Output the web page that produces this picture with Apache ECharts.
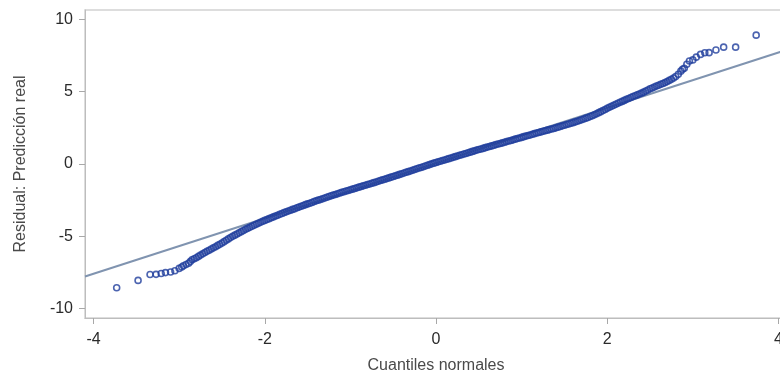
<!DOCTYPE html>
<html>
<head>
<meta charset="utf-8">
<script src="https://cdn.jsdelivr.net/npm/echarts@6/dist/echarts.min.js"></script>
<style>
  html, body { margin: 0; padding: 0; background: #fff; overflow: hidden; }
  #chart { width: 800px; height: 379px; }
</style>
</head>
<body>
<div id="chart"></div>
<script>
// Normal quantiles (x) and sorted residuals (y) of the Q-Q plot
const quantiles = [
  -3.73, -3.48, -3.34, -3.27, -3.21, -3.16, -3.10, -3.05, -3.00, -2.97, -2.95, -2.92, -2.89, -2.87,
  -2.85, -2.825, -2.8, -2.775, -2.75, -2.725, -2.7, -2.675, -2.65, -2.625,
  -2.6, -2.575, -2.55, -2.525, -2.5, -2.475, -2.45, -2.425, -2.4, -2.375,
  -2.35, -2.325, -2.3, -2.275, -2.25, -2.225, -2.2, -2.175, -2.15, -2.125,
  -2.1, -2.075, -2.05, -2.025, -2.0, -1.975, -1.95, -1.925, -1.9, -1.875,
  -1.85, -1.825, -1.8, -1.775, -1.75, -1.725, -1.7, -1.675, -1.65, -1.625,
  -1.6, -1.575, -1.55, -1.525, -1.5, -1.475, -1.45, -1.425, -1.4, -1.375,
  -1.35, -1.325, -1.3, -1.275, -1.25, -1.225, -1.2, -1.175, -1.15, -1.125,
  -1.1, -1.075, -1.05, -1.025, -1.0, -0.975, -0.95, -0.925, -0.9, -0.875,
  -0.85, -0.825, -0.8, -0.775, -0.75, -0.725, -0.7, -0.675, -0.65, -0.625,
  -0.6, -0.575, -0.55, -0.525, -0.5, -0.475, -0.45, -0.425, -0.4, -0.375,
  -0.35, -0.325, -0.3, -0.275, -0.25, -0.225, -0.2, -0.175, -0.15, -0.125,
  -0.1, -0.075, -0.05, -0.025, 0, 0.025, 0.05, 0.075, 0.1, 0.125,
  0.15, 0.175, 0.2, 0.225, 0.25, 0.275, 0.3, 0.325, 0.35, 0.375,
  0.4, 0.425, 0.45, 0.475, 0.5, 0.525, 0.55, 0.575, 0.6, 0.625,
  0.65, 0.675, 0.7, 0.725, 0.75, 0.775, 0.8, 0.825, 0.85, 0.875,
  0.9, 0.925, 0.95, 0.975, 1.0, 1.025, 1.05, 1.075, 1.1, 1.125,
  1.15, 1.175, 1.2, 1.225, 1.25, 1.275, 1.3, 1.325, 1.35, 1.375,
  1.4, 1.425, 1.45, 1.475, 1.5, 1.525, 1.55, 1.575, 1.6, 1.625,
  1.65, 1.675, 1.7, 1.725, 1.75, 1.775, 1.8, 1.825, 1.85, 1.875,
  1.9, 1.925, 1.95, 1.975, 2.0, 2.025, 2.05, 2.075, 2.1, 2.125,
  2.15, 2.175, 2.2, 2.225, 2.25, 2.275, 2.3, 2.325, 2.35, 2.375,
  2.4, 2.425, 2.45, 2.475, 2.5, 2.525, 2.55, 2.575, 2.6, 2.625,
  2.65, 2.675, 2.7, 2.725, 2.75, 2.775, 2.8,
  2.83, 2.86, 2.88, 2.90, 2.93, 2.96, 3.00, 3.04, 3.09, 3.14, 3.19, 3.27, 3.36, 3.50, 3.74
];
const residuals = [
  -8.56, -8.05, -7.64, -7.63, -7.57, -7.51, -7.47, -7.38, -7.22, -7.12, -7.04, -6.95, -6.86, -6.75,
  -6.62, -6.55, -6.48, -6.39, -6.30, -6.21, -6.12, -6.04, -5.96, -5.88,
  -5.80, -5.72, -5.63, -5.55, -5.46, -5.37, -5.27, -5.18, -5.08, -5.00,
  -4.92, -4.84, -4.76, -4.68, -4.60, -4.52, -4.45, -4.38, -4.31, -4.24,
  -4.17, -4.10, -4.03, -3.96, -3.90, -3.84, -3.78, -3.72, -3.66, -3.60,
  -3.54, -3.48, -3.42, -3.36, -3.31, -3.25, -3.20, -3.14, -3.09, -3.03,
  -2.98, -2.92, -2.87, -2.81, -2.76, -2.71, -2.66, -2.60, -2.55, -2.50,
  -2.45, -2.40, -2.35, -2.30, -2.25, -2.20, -2.15, -2.11, -2.06, -2.01,
  -1.96, -1.92, -1.87, -1.83, -1.78, -1.74, -1.69, -1.65, -1.60, -1.56,
  -1.51, -1.47, -1.42, -1.38, -1.33, -1.29, -1.24, -1.19, -1.14, -1.10,
  -1.05, -1.01, -0.96, -0.91, -0.86, -0.82, -0.77, -0.72, -0.67, -0.62,
  -0.57, -0.53, -0.48, -0.43, -0.38, -0.33, -0.28, -0.24, -0.19, -0.14,
  -0.09, -0.04, 0.01, 0.06, 0.10, 0.15, 0.19, 0.24, 0.28, 0.33,
  0.37, 0.42, 0.46, 0.51, 0.55, 0.60, 0.64, 0.69, 0.73, 0.78,
  0.82, 0.87, 0.91, 0.96, 1.00, 1.04, 1.08, 1.13, 1.17, 1.21,
  1.25, 1.30, 1.34, 1.38, 1.42, 1.46, 1.50, 1.55, 1.59, 1.63,
  1.67, 1.72, 1.76, 1.80, 1.84, 1.89, 1.93, 1.97, 2.01, 2.06,
  2.10, 2.14, 2.18, 2.22, 2.26, 2.30, 2.34, 2.38, 2.42, 2.46,
  2.50, 2.55, 2.59, 2.64, 2.68, 2.73, 2.77, 2.82, 2.86, 2.91,
  2.96, 3.01, 3.06, 3.11, 3.17, 3.22, 3.28, 3.34, 3.41, 3.48,
  3.55, 3.62, 3.70, 3.77, 3.85, 3.92, 3.99, 4.06, 4.13, 4.20,
  4.27, 4.33, 4.40, 4.47, 4.53, 4.60, 4.66, 4.72, 4.78, 4.84,
  4.90, 4.97, 5.05, 5.12, 5.20, 5.26, 5.32, 5.39, 5.45, 5.51,
  5.57, 5.63, 5.70, 5.78, 5.86, 5.95, 6.05,
  6.20, 6.42, 6.55, 6.62, 6.90, 7.12, 7.20, 7.39, 7.58, 7.69, 7.70, 7.88, 8.08, 8.08, 8.91
];

// Reference line end points
const refLineX = [-4.1, 4.1];
const refLineY = [-7.78, 7.90];

// Tick labels
const xTicks = [-4, -2, 0, 2, 4];
const yTicks = [-10, -5, 0, 5, 10];

const points = quantiles.map((q, i) => [q, residuals[i]]);
const linePoints = refLineX.map((x, i) => [x, refLineY[i]]);

const font = 'Liberation Sans, Arial, sans-serif';
const chart = echarts.init(document.getElementById('chart'), null, { renderer: 'canvas' });

chart.setOption({
  animation: false,
  backgroundColor: '#ffffff',
  grid: {
    left: 85, top: 10, width: 702, bottom: 60.5,
    show: true, borderColor: '#d2d2d2', borderWidth: 1.5, backgroundColor: '#ffffff'
  },
  xAxis: {
    type: 'value', min: -4.1, max: 4.1,
    name: 'Cuantiles normales', nameLocation: 'middle', nameGap: 40,
    nameTextStyle: { fontFamily: font, fontSize: 16, color: '#4a4a4a' },
    axisLine: { show: true, onZero: false, lineStyle: { color: '#bdbdbd', width: 1 } },
    axisTick: { show: true, customValues: xTicks, length: 6, lineStyle: { color: '#a8a8a8' } },
    axisLabel: { customValues: xTicks, margin: 14, fontFamily: font, fontSize: 16, color: '#2a2a2a' },
    splitLine: { show: false }
  },
  yAxis: {
    type: 'value', min: -10.65, max: 10.65,
    name: 'Residual: Predicción real', nameLocation: 'middle', nameGap: 56, nameRotate: 90,
    nameTextStyle: { fontFamily: font, fontSize: 16, color: '#4a4a4a' },
    axisLine: { show: true, onZero: false, lineStyle: { color: '#bdbdbd', width: 1 } },
    axisTick: { show: true, customValues: yTicks, length: 6, lineStyle: { color: '#a8a8a8' } },
    axisLabel: { customValues: yTicks, margin: 12, fontFamily: font, fontSize: 16, color: '#2a2a2a' },
    splitLine: { show: false }
  },
  series: [
    {
      // fitted reference line, drawn beneath the markers
      type: 'line',
      data: linePoints,
      showSymbol: false,
      symbol: 'none',
      lineStyle: { color: '#8094b0', width: 2 },
      z: 1
    },
    {
      type: 'scatter',
      data: points,
      symbol: 'circle',
      symbolSize: 6,
      itemStyle: { color: 'rgba(0,0,0,0)', borderColor: '#1f3d9c', borderWidth: 1.6 },
      z: 2
    }
  ]
});
</script>
</body>
</html>
